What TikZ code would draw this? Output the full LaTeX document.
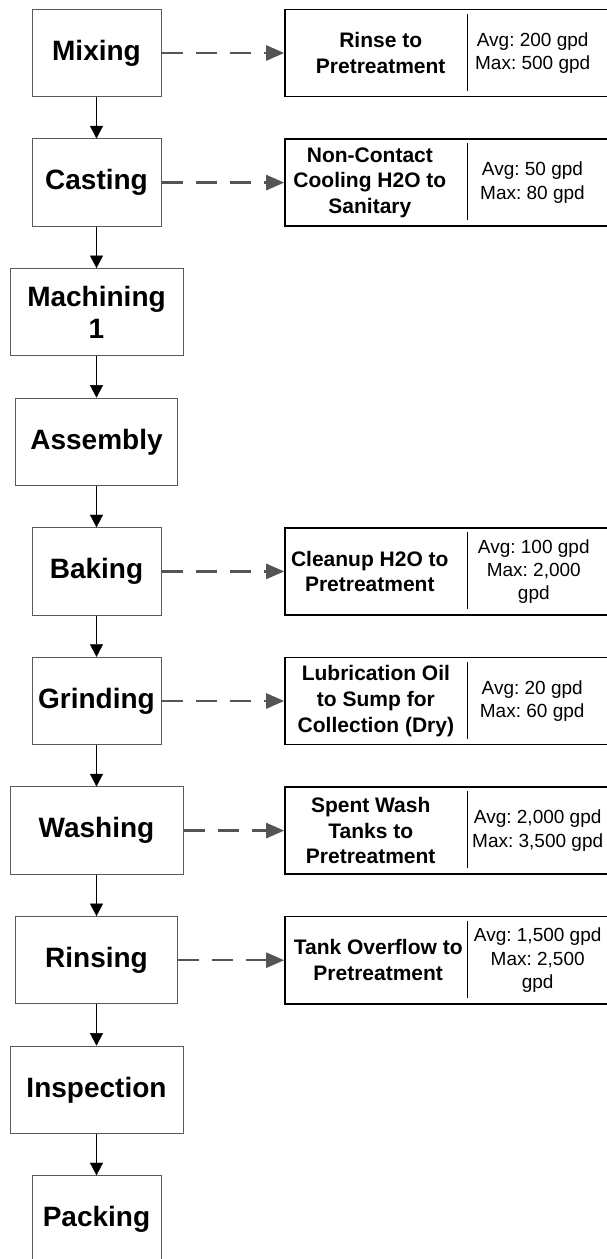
\documentclass[tikz,border=0pt]{standalone}
\usepackage{fontspec}
\setmainfont{Liberation Sans}
\usetikzlibrary{arrows.meta}
\tikzset{%
  >={Triangle[width=13pt,length=12.5pt]},
  % Specifications for style of nodes:
          stage/.style = {rectangle, draw=black!65, line width=1pt,
                          minimum height=87.3pt, inner sep=2pt,
                          text centered, align=center,
                          font=\fontsize{28}{32}\selectfont\bfseries},
    narrowstage/.style = {stage, minimum width=129pt},
       midstage/.style = {stage, minimum width=161.5pt},
      widestage/.style = {stage, minimum width=173pt},
         outbox/.style = {rectangle, draw=black, line width=1.6pt,
                          minimum width=340pt, minimum height=87.3pt},
        outname/.style = {align=center, inner sep=0pt,
                          font=\fontsize{21}{25.6}\selectfont\bfseries},
        outflow/.style = {align=center, inner sep=0pt,
                          font=\fontsize{19}{23.3}\selectfont\frenchspacing},
      wasteline/.style = {draw=black!67, line width=2.5pt,
                          dash pattern=on 21pt off 13pt,
                          -{Triangle[width=15pt,length=18pt]}},
        divider/.style = {line width=1.2pt},
}

\begin{document}
\begin{tikzpicture}[x=1pt, y=1pt, node distance=129.6pt]
  \useasboundingbox (0,0) rectangle (607,-1259);
  % Specification of nodes (position, etc.)

  \node (mixing)     [narrowstage] at (96.5,-53) {Mixing};
  \node (casting)    [narrowstage, below of=mixing] {Casting};
  \node (machining)  [widestage, below of=casting] {Machining\\1};
  \node (assembly)   [midstage, below of=machining] {Assembly};
  \node (baking)     [narrowstage, below of=assembly] {Baking};
  \node (grinding)   [narrowstage, below of=baking] {Grinding};
  \node (washing)    [widestage, below of=grinding] {Washing};
  \node (rinsing)    [midstage, below of=washing] {Rinsing};
  \node (inspection) [widestage, below of=rinsing] {Inspection};
  \node (packing)    [narrowstage, below of=inspection] {Packing};

  % wastewater streams
  \node (rinsebox)     [outbox, right of=mixing, xshift=228.9pt] {};
  \node (rinse)        [outname, xshift=96.5pt] at (rinsebox.west) {Rinse to\\Pretreatment};
  \node (rinseflow)    [outflow, xshift=248.5pt] at (rinsebox.west) {Avg: 200 gpd\\Max: 500 gpd};

  \node (coolingbox)   [outbox, right of=casting, xshift=228.9pt] {};
  \node (cooling)      [outname, xshift=85.7pt] at (coolingbox.west) {Non-Contact\\Cooling H2O to\\Sanitary};
  \node (coolingflow)  [outflow, xshift=248.3pt] at (coolingbox.west) {Avg: 50 gpd\\Max: 80 gpd};

  \node (cleanupbox)   [outbox, right of=baking, xshift=228.9pt] {};
  \node (cleanup)      [outname, xshift=85.6pt] at (cleanupbox.west) {Cleanup H2O to\\Pretreatment};
  \node (cleanupflow)  [outflow, xshift=249.6pt] at (cleanupbox.west) {Avg: 100 gpd\\Max: 2,000\\gpd};

  \node (lubebox)      [outbox, right of=grinding, xshift=228.9pt] {};
  \node (lube)         [outname, xshift=91.7pt] at (lubebox.west) {Lubrication Oil\\to Sump for\\Collection (Dry)};
  \node (lubeflow)     [outflow, xshift=248pt] at (lubebox.west) {Avg: 20 gpd\\Max: 60 gpd};

  \node (spentbox)     [outbox, right of=washing, xshift=228.9pt] {};
  \node (spent)        [outname, xshift=86.5pt] at (spentbox.west) {Spent Wash\\Tanks to\\Pretreatment};
  \node (spentflow)    [outflow, xshift=253.5pt] at (spentbox.west) {Avg: 2,000 gpd\\Max: 3,500 gpd};

  \node (overflowbox)  [outbox, right of=rinsing, xshift=228.9pt] {};
  \node (overflow)     [outname, xshift=94pt] at (overflowbox.west) {Tank Overflow to\\Pretreatment};
  \node (overflowflow) [outflow, xshift=253.5pt] at (overflowbox.west) {Avg: 1,500 gpd\\Max: 2,500\\gpd};

  \draw[divider] (rinsebox.north west) ++(183.5,-5) -- ++(0,-77.3);
  \draw[divider] (coolingbox.north west) ++(183.5,-5) -- ++(0,-77.3);
  \draw[divider] (cleanupbox.north west) ++(183.5,-5) -- ++(0,-77.3);
  \draw[divider] (lubebox.north west) ++(183.5,-5) -- ++(0,-77.3);
  \draw[divider] (spentbox.north west) ++(183.5,-5) -- ++(0,-77.3);
  \draw[divider] (overflowbox.north west) ++(183.5,-5) -- ++(0,-77.3);

  % process flow
  \draw[->] (mixing) -- (casting);
  \draw[->] (casting) -- (machining);
  \draw[->] (machining) -- (assembly);
  \draw[->] (assembly) -- (baking);
  \draw[->] (baking) -- (grinding);
  \draw[->] (grinding) -- (washing);
  \draw[->] (washing) -- (rinsing);
  \draw[->] (rinsing) -- (inspection);
  \draw[->] (inspection) -- (packing);

  \draw[wasteline] (mixing) -- (rinsebox);
  \draw[wasteline] (casting) -- (coolingbox);
  \draw[wasteline] (baking) -- (cleanupbox);
  \draw[wasteline] (grinding) -- (lubebox);
  \draw[wasteline] (washing) -- (spentbox);
  \draw[wasteline] (rinsing) -- (overflowbox);

\end{tikzpicture}
\end{document}
